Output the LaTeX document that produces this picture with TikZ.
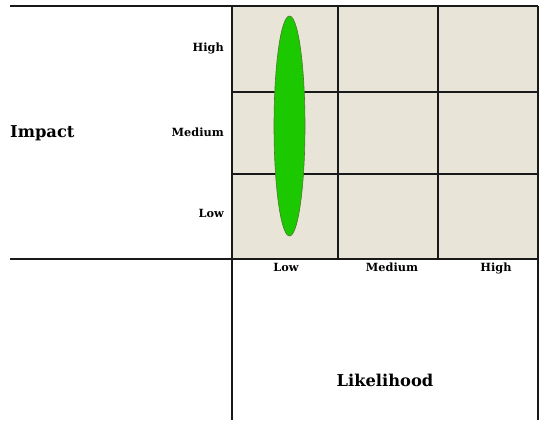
\documentclass[tikz,border=0pt]{standalone}
\usepackage{fontspec}
\setmainfont{DejaVu Serif}
\usetikzlibrary{shapes.geometric}
\definecolor{cellfill}{HTML}{E8E5D8}
\definecolor{blobfill}{HTML}{1CC800}
\definecolor{blobdraw}{HTML}{4A7A2A}
\tikzset{
  gridline/.style={line width=1.2pt, black!90},
  small/.style={font=\bfseries\fontsize{11.3}{13}\selectfont, inner sep=0pt},
  big/.style={font=\bfseries\fontsize{16.3}{19}\selectfont, inner sep=0pt},
}
\begin{document}
\begin{tikzpicture}[x=1pt,y=-1pt]
\useasboundingbox (0,0) rectangle (552,435);
\fill[cellfill] (232,6) rectangle (538,259);
% grid lines
\draw[gridline] (10,6) -- (538,6);
\draw[gridline] (10,259) -- (538,259);
\draw[gridline] (232,92) -- (538,92);
\draw[gridline] (232,174) -- (538,174);
\draw[gridline] (232,6) -- (232,420);
\draw[gridline] (538,6) -- (538,420);
\draw[gridline] (338,6) -- (338,259);
\draw[gridline] (438,6) -- (438,259);
% blob
\node[ellipse, draw=blobdraw, fill=blobfill, line width=0.6pt, minimum width=31pt, minimum height=220pt, inner sep=0pt] (blob) at (289.5,126) {};
% impact labels
\node[small, anchor=base east] (ihigh) at (224,52) {High};
\node[small, anchor=base east] (imed) at (224,137) {Medium};
\node[small, anchor=base east] (ilow) at (224,218) {Low};
% likelihood labels
\node[small, anchor=base] (llow) at (286,272) {Low};
\node[small, anchor=base] (lmed) at (392,272) {Medium};
\node[small, anchor=base] (lhigh) at (496,272) {High};
% axis titles
\node[big, anchor=base west] (impact) at (10,138) {Impact};
\node[big, anchor=base] (likelihood) at (385,387) {Likelihood};
\end{tikzpicture}
\end{document}
